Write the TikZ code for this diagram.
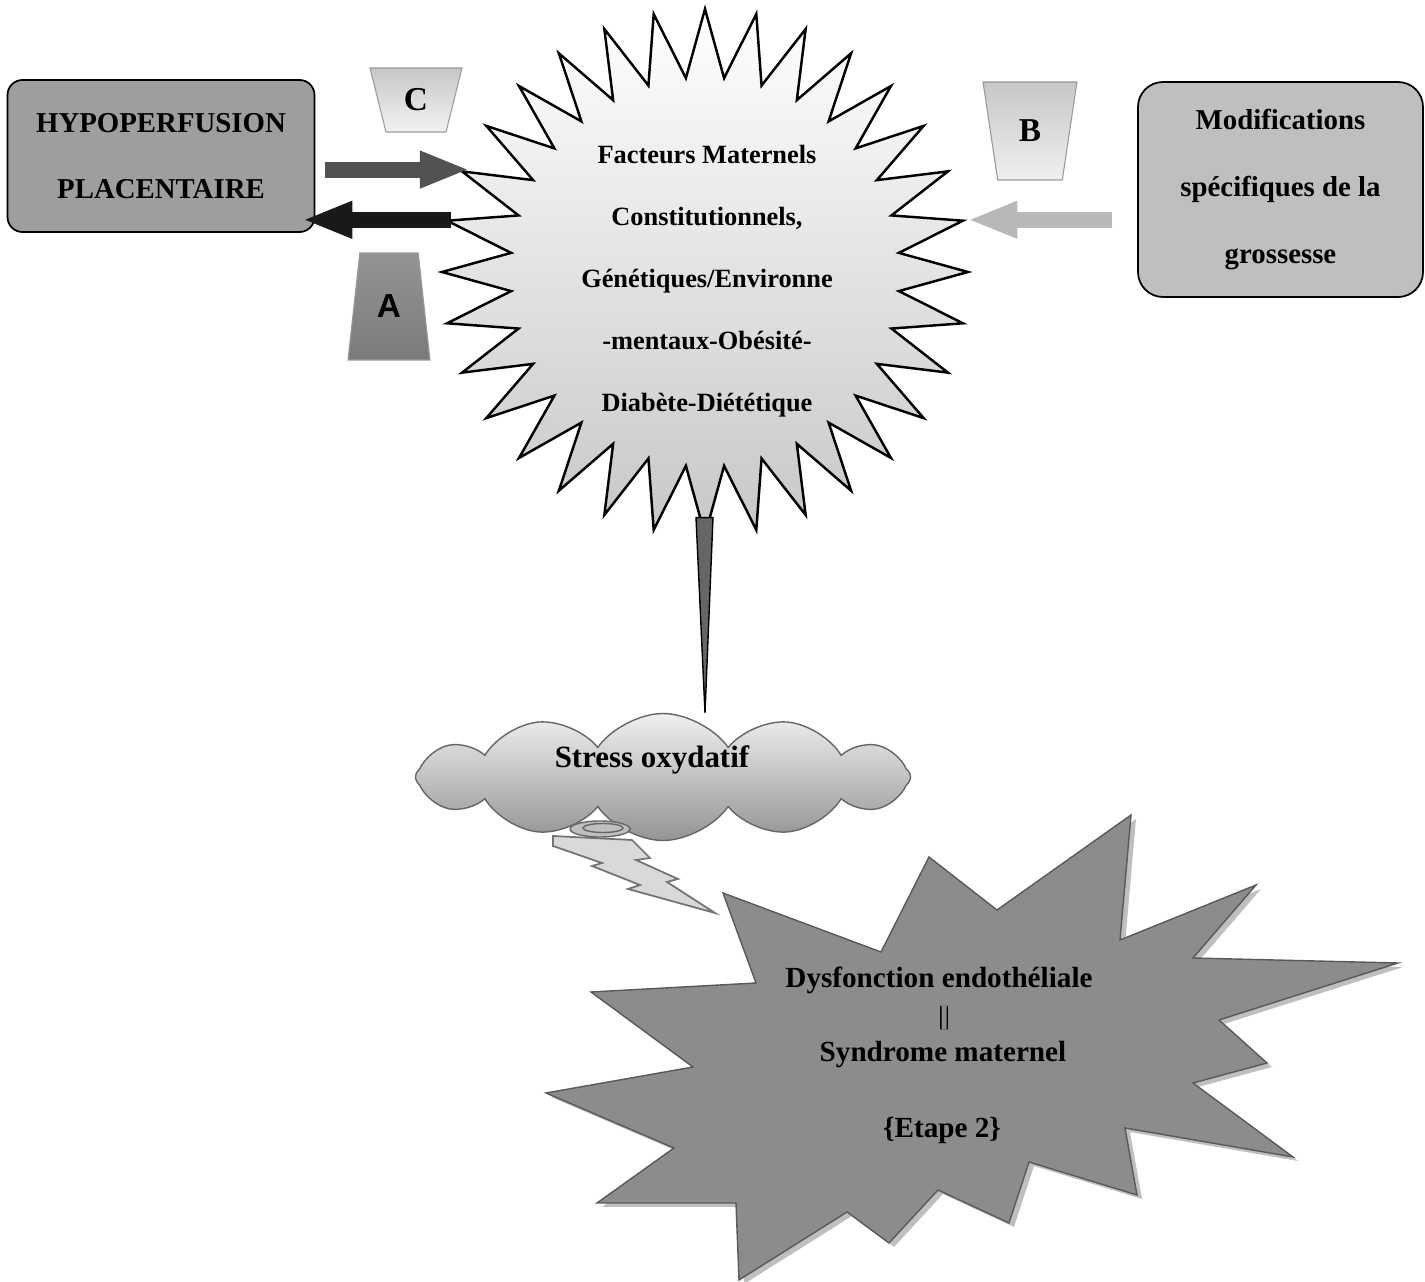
\documentclass[tikz,border=0pt]{standalone}
\usepackage{fontspec}
\setmainfont{Liberation Serif}
\setsansfont{Liberation Sans}
\usetikzlibrary{calc,positioning,arrows.meta,shapes.geometric,shapes.symbols}

\begin{document}
\begin{tikzpicture}[bloc/.style={draw=black,line width=0.5pt,align=center,font=\bfseries\fontsize{8.2}{19}\selectfont},
  sunburst/.style={star,star points=32,star point ratio=1.35,minimum size=5.26cm,inner sep=0pt,draw=black,line width=0.7pt,top color=white,bottom color=black!22},
  ftxt/.style={align=center,font=\bfseries\fontsize{7.5}{17.6}\selectfont},
  seau/.style={trapezium,trapezium stretches=true,trapezium angle=#1,inner sep=0pt,draw=black!40,line width=0.3pt,font=\bfseries\fontsize{9.5}{9.5}\selectfont},
  fleche/.style={line width=0.16cm,-{Triangle[length=0.5cm,width=0.34cm]}},
  btxt/.style={font=\bfseries\fontsize{8.3}{10}\selectfont}]
  \useasboundingbox (0,0) rectangle (14.25,-12.82);

  % boxes
  \node[bloc,fill=black!38,rounded corners=0.15cm,minimum width=3.07cm,minimum height=1.52cm] (hp) at (1.61,-1.56) {HYPOPERFUSION\\PLACENTAIRE};
  \node[bloc,fill=black!25,rounded corners=0.25cm,minimum width=2.85cm,minimum height=2.15cm] (mod) at (12.805,-1.895) {Modifications\\spécifiques de la\\grossesse};

  % maternal factors
  \node[sunburst] (fm) at (7.05,-2.72) {};
  \node[ftxt] (fmtxt) at (7.07,-2.81) {Facteurs Maternels\\Constitutionnels,\\Génétiques/Environne\\-mentaux-Obésité-\\Diabète-Diététique};

  % letters
  \node[seau=74,shape border rotate=180,minimum width=0.92cm,minimum height=0.64cm,top color=black!22,bottom color=black!5] (lettreC) at (4.16,-1.0) {C};
  \node[seau=77,shape border rotate=180,minimum width=0.94cm,minimum height=0.98cm,top color=black!22,bottom color=black!6] (lettreB) at (10.30,-1.31) {B};
  \node[seau=78,minimum width=0.82cm,minimum height=1.07cm,top color=black!42,bottom color=black!52,font=\sffamily\bfseries\fontsize{9.5}{9.5}\selectfont] (lettreA) at (3.89,-3.065) {A};

  \draw[fleche,black!68,shorten <=0.1cm,shorten >=-0.12cm] (hp.east |- fm.outer point 7) -- (fm.outer point 7);
  \draw[fleche,black!90,shorten <=-0.08cm,shorten >=-0.13cm] (fm.outer point 8) -- (hp.east |- fm.outer point 8);
  \draw[fleche,black!28,shorten <=0.25cm] (mod.west |- fm.outer point 26) -- (fm.outer point 26);

  % oxidative stress
  \node[cloud,cloud puffs=12,cloud puff arc=110,cloud ignores aspect,minimum width=4.95cm,minimum height=1.27cm,inner sep=0pt,draw=black!60,line width=0.4pt,top color=black!6,bottom color=black!42] (sox) at (6.63,-7.77) {};
  \node[font=\bfseries\fontsize{8.8}{10}\selectfont] (soxtxt) at (6.52,-7.6) {Stress oxydatif};
  \filldraw[fill=black!60,draw=black,line width=0.4pt] ([shift={(-0.09,0.22)}]fm.south) -- ([shift={(0.08,0.22)}]fm.south) -- (fm.south |- sox.north) -- cycle;

  % lightning
  \filldraw[fill=black!15,draw=black!55,line width=0.5pt] (5.53,-8.36) -- (6.32,-8.40) -- (6.50,-8.58) -- (6.36,-8.60) -- (6.78,-8.79) -- (6.67,-8.82) -- (7.15,-9.13) -- (6.28,-8.89) -- (6.40,-8.85) -- (5.92,-8.66) -- (6.02,-8.63) -- (5.53,-8.46) -- cycle;
  \filldraw[fill=black!25,draw=black!60,line width=0.4pt] (6.0,-8.29) ellipse (0.3 and 0.08);
  \draw[black!60,line width=0.4pt] (6.03,-8.28) ellipse (0.2 and 0.045);

  % endothelial dysfunction
  \filldraw[fill=black!45,draw=black!65,line width=0.4pt,preaction={fill=black!25,transform canvas={shift={(0.05,-0.04)}}}]
    (7.23,-8.93) -- (8.81,-9.52) -- (9.29,-8.57) -- (9.97,-9.10) -- (11.31,-8.15) -- (11.20,-9.40)
    -- (12.56,-8.85) -- (11.93,-9.58) -- (13.98,-9.63) -- (12.19,-10.20) -- (12.67,-10.63) -- (11.93,-10.83)
    -- (12.93,-11.57) -- (11.25,-11.28) -- (11.37,-11.95) -- (10.29,-11.62) -- (10.09,-12.23) -- (9.38,-11.90)
    -- (8.89,-12.43) -- (8.47,-12.12) -- (7.39,-12.80) -- (7.36,-12.03) -- (5.97,-12.03) -- (6.74,-11.48)
    -- (5.46,-10.93) -- (6.93,-10.67) -- (5.91,-9.92) -- (7.56,-9.83) -- cycle;
  \node[btxt] (dys) at (9.39,-9.80) {Dysfonction endothéliale};
  \node[btxt] (syn) at (9.43,-10.55) {Syndrome maternel};
  \node[btxt] (etape) at (9.42,-11.30) {\{Etape 2\}};
  \draw[double=black!45,double distance=0.05cm,line width=0.4pt] ([xshift=0.05cm]dys.south) -- ([xshift=0.01cm]syn.north);
\end{tikzpicture}
\end{document}
